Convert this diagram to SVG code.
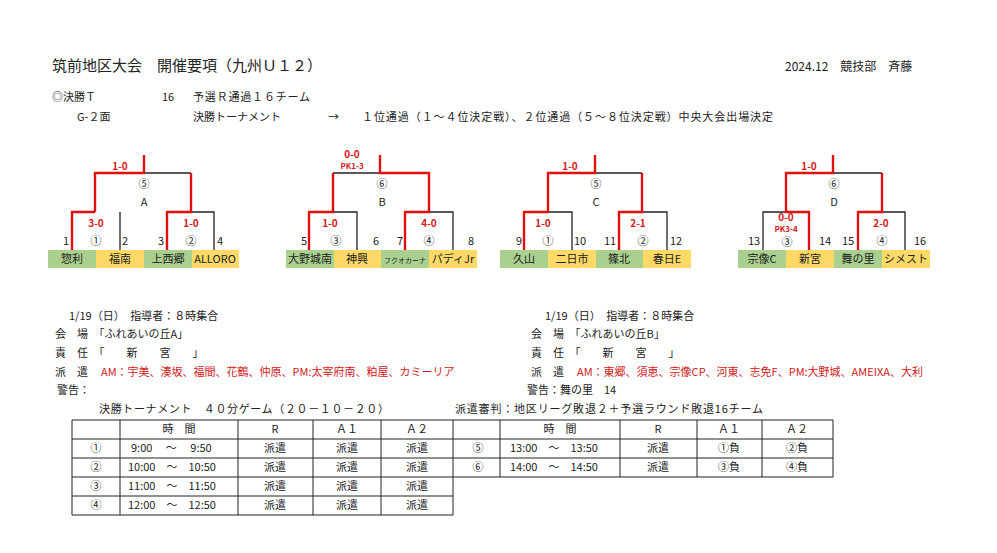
<svg xmlns="http://www.w3.org/2000/svg" width="997" height="553" viewBox="0 0 997 553">
<style>
text{font-family:"Noto Sans CJK JP","Liberation Sans",sans-serif;font-size:11px;fill:#222}
.t{font-size:15px}
.c{text-anchor:middle}
.r{fill:#d42020}
.s{font-weight:bold;font-size:10px;fill:#d42020;text-anchor:middle}
.pk{font-weight:bold;font-size:8px;fill:#d42020;text-anchor:middle}
.k{stroke:#222;stroke-width:1.3;fill:none}
.rl{stroke:#e01010;stroke-width:2.4;fill:none}
.g{fill:#a9d08e}.y{fill:#ffd966}
.tb{stroke:#222;stroke-width:1;fill:none}
</style>
<rect width="997" height="553" fill="#fff"/>
<g id="header">
<text x="52" y="71" class="t">筑前地区大会　開催要項（九州Ｕ１２）</text>
<text x="785" y="71" style="font-size:12px">2024.12　競技部　斉藤</text>
<text x="52" y="101">◎決勝Ｔ</text>
<text x="162" y="101">16</text>
<text x="193" y="101" textLength="117">予選Ｒ通過１６チーム</text>
<text x="77" y="121">G-２面</text>
<text x="193" y="121">決勝トーナメント</text>
<text x="328" y="121">→</text>
<text x="362" y="121" textLength="411">１位通過（１～４位決定戦）、２位通過（５～８位決定戦）中央大会出場決定</text>
</g>
<g id="connectors">
<path class="k" d="M144 173H191M120 212V250M191 212H214V250"/>
<path class="rl" d="M144 155V173H95V212M191 173V212H167V250M95 212H72V250"/>
<path class="k" d="M333 173H380M333 212H357V250M429 212H453V250"/>
<path class="rl" d="M380 155V173H429V212H405V250M333 173V212H309V250"/>
<path class="k" d="M595 173H642M548 212H572V250M642 212H667V250"/>
<path class="rl" d="M595 155V173H548V212H524V250M642 173V212H619V250"/>
<path class="k" d="M833 173H882M786 212H763V250M882 212H905V250"/>
<path class="rl" d="M833 155V173H786V212H809V250M882 173V212H858V250"/>
</g>
<g id="bracketA">
<rect class="g" x="48" y="250" width="48" height="18"/><rect class="y" x="96" y="250" width="48" height="18"/>
<rect class="g" x="144" y="250" width="48" height="18"/><rect class="y" x="192" y="250" width="47" height="18"/>
<text x="72" y="263" class="c">惣利</text><text x="120" y="263" class="c">福南</text><text x="168" y="263" class="c">上西郷</text><text x="215" y="263" class="c">ALLORO</text>
<text x="66" y="245" class="c">1</text><text x="125" y="245" class="c">2</text><text x="161" y="245" class="c">3</text><text x="220" y="245" class="c">4</text>
<text x="96" y="245" class="c">①</text><text x="191" y="245" class="c">②</text><text x="144" y="188" class="c">⑤</text><text x="144" y="206" class="c">A</text>
<text x="120" y="170" class="s">1-0</text><text x="96" y="227" class="s">3-0</text><text x="191" y="227" class="s">1-0</text>
</g>
<g id="bracketB">
<rect class="g" x="286" y="250" width="48" height="18"/><rect class="y" x="334" y="250" width="47" height="18"/>
<rect class="g" x="381" y="250" width="48" height="18"/><rect class="y" x="429" y="250" width="48" height="18"/>
<text x="310" y="263" class="c">大野城南</text><text x="357" y="263" class="c">神興</text><text x="405" y="263" class="c" style="font-size:7px">フクオカーナ</text><text x="453" y="263" class="c">パディJr</text>
<text x="304" y="245" class="c">5</text><text x="376" y="245" class="c">6</text><text x="400" y="245" class="c">7</text><text x="471" y="245" class="c">8</text>
<text x="336" y="245" class="c">③</text><text x="429" y="245" class="c">④</text><text x="382" y="188" class="c">⑥</text><text x="382" y="206" class="c">B</text>
<text x="352" y="158" class="s">0-0</text><text x="352" y="169" class="pk">PK1-3</text><text x="330" y="227" class="s">1-0</text><text x="429" y="227" class="s">4-0</text>
</g>
<g id="bracketC">
<rect class="g" x="500" y="250" width="48" height="18"/><rect class="y" x="548" y="250" width="48" height="18"/>
<rect class="g" x="596" y="250" width="47" height="18"/><rect class="y" x="643" y="250" width="48" height="18"/>
<text x="524" y="263" class="c">久山</text><text x="572" y="263" class="c">二日市</text><text x="619" y="263" class="c">篠北</text><text x="667" y="263" class="c">春日E</text>
<text x="519" y="245" class="c">9</text><text x="580" y="245" class="c">10</text><text x="610" y="245" class="c">11</text><text x="676" y="245" class="c">12</text>
<text x="548" y="245" class="c">①</text><text x="643" y="245" class="c">②</text><text x="596" y="188" class="c">⑤</text><text x="596" y="206" class="c">C</text>
<text x="570" y="170" class="s">1-0</text><text x="543" y="227" class="s">1-0</text><text x="638" y="227" class="s">2-1</text>
</g>
<g id="bracketD">
<rect class="g" x="738" y="250" width="48" height="18"/><rect class="y" x="786" y="250" width="48" height="18"/>
<rect class="g" x="834" y="250" width="48" height="18"/><rect class="y" x="882" y="250" width="48" height="18"/>
<text x="762" y="263" class="c">宗像C</text><text x="810" y="263" class="c">新宮</text><text x="858" y="263" class="c">舞の里</text><text x="906" y="263" class="c">シメスト</text>
<text x="754" y="245" class="c">13</text><text x="825" y="245" class="c">14</text><text x="848" y="245" class="c">15</text><text x="920" y="245" class="c">16</text>
<text x="787" y="246" class="c">③</text><text x="882" y="245" class="c">④</text><text x="834" y="188" class="c">⑥</text><text x="834" y="206" class="c">D</text>
<text x="809" y="170" class="s">1-0</text><text x="786" y="221" class="s">0-0</text><text x="786" y="232" class="pk">PK3-4</text><text x="881" y="227" class="s">2-0</text>
</g>
<g id="infoA">
<text x="69" y="320">1/19（日）　指導者：８時集合</text>
<text x="55" y="338">会　場　「ふれあいの丘A」</text>
<text x="55" y="357">責　任　「　　新　　宮　　」</text>
<text x="55" y="376">派　遣</text><text x="101" y="376" class="r">AM：宇美、湊坂、福間、花鶴、仲原、PM:太宰府南、粕屋、カミーリア</text>
<text x="57" y="394">警告：</text>
<text x="99" y="413" textLength="290">決勝トーナメント　４０分ゲーム（２０－１０－２０）</text>
</g>
<g id="infoB">
<text x="545" y="320">1/19（日）　指導者：８時集合</text>
<text x="531" y="338">会　場　「ふれあいの丘B」</text>
<text x="531" y="357">責　任　「　　新　　宮　　」</text>
<text x="531" y="376">派　遣</text><text x="577" y="376" class="r">AM：東郷、須恵、宗像CP、河東、志免F、PM:大野城、AMEIXA、大利</text>
<text x="527" y="394">警告：舞の里　14</text>
<text x="455" y="413" textLength="308">派遣審判：地区リーグ敗退２＋予選ラウンド敗退16チーム</text>
</g>
<g id="tableLeft">
<path class="tb" d="M72 420H453M72 439H453M72 458H453M72 477H453M72 496H453M72 515H453M72 420V515M120 420V515M238 420V515M313 420V515M381 420V515M453 420V515"/>
<text x="179" y="433" class="c">時　間</text><text x="275" y="433" class="c">R</text><text x="347" y="433" class="c">Ａ１</text><text x="417" y="433" class="c">Ａ２</text>
<text x="96" y="452" class="c">①</text><text x="131" y="452">9:00　 ～　 9:50</text>
<text x="96" y="471" class="c">②</text><text x="128" y="471">10:00　～　10:50</text>
<text x="96" y="490" class="c">③</text><text x="128" y="490">11:00　～　11:50</text>
<text x="96" y="509" class="c">④</text><text x="128" y="509">12:00　～　12:50</text>
<text x="275" y="452" class="c">派遣</text><text x="347" y="452" class="c">派遣</text><text x="417" y="452" class="c">派遣</text>
<text x="275" y="471" class="c">派遣</text><text x="347" y="471" class="c">派遣</text><text x="417" y="471" class="c">派遣</text>
<text x="275" y="490" class="c">派遣</text><text x="347" y="490" class="c">派遣</text><text x="417" y="490" class="c">派遣</text>
<text x="275" y="509" class="c">派遣</text><text x="347" y="509" class="c">派遣</text><text x="417" y="509" class="c">派遣</text>
</g>
<g id="tableRight">
<path class="tb" d="M453 420H833M453 439H833M453 458H833M453 477H833M500 420V477M620 420V477M697 420V477M762 420V477M833 420V477"/>
<text x="560" y="433" class="c">時　間</text><text x="658" y="433" class="c">R</text><text x="729" y="433" class="c">Ａ１</text><text x="797" y="433" class="c">Ａ２</text>
<text x="478" y="452" class="c">⑤</text><text x="510" y="452">13:00　～　13:50</text>
<text x="478" y="471" class="c">⑥</text><text x="510" y="471">14:00　～　14:50</text>
<text x="658" y="452" class="c">派遣</text><text x="729" y="452" class="c">①負</text><text x="797" y="452" class="c">②負</text>
<text x="658" y="471" class="c">派遣</text><text x="729" y="471" class="c">③負</text><text x="797" y="471" class="c">④負</text>
</g>
</svg>
